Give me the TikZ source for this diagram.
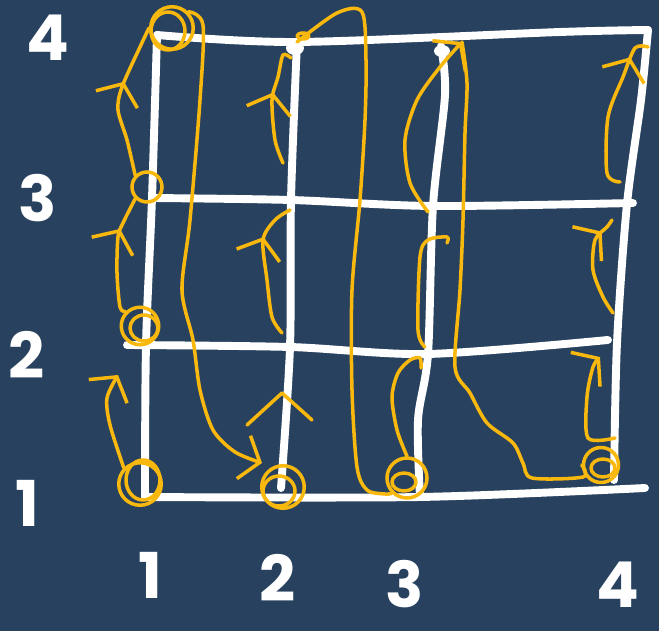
\documentclass[tikz,border=0pt]{standalone}
\usepackage{fontspec}
\setmainfont{Poppins}
\usetikzlibrary{arrows.meta,decorations.markings}
\definecolor{board}{HTML}{27415F}
\definecolor{chalk}{HTML}{FFFFFF}
\definecolor{pen}{HTML}{F9B80E}
\tikzset{
  grid line/.style={chalk, line width=4.5pt, line cap=round, line join=round},
  walk/.style={pen, line width=2pt, line cap=round, line join=round},
  hand/.tip={Straight Barb[length=0.34cm,width=0.9cm]},
  midarrow/.style={postaction={decorate}, decoration={markings, mark=at position #1 with {\arrow{hand}}}},
  ring/.style={circle, draw=pen, line width=2pt, inner sep=0pt, minimum size=#1},
  digit/.style={chalk, font=\fontsize{36}{36}\selectfont\bfseries}
}
\begin{document}
\begin{tikzpicture}[x=0.02cm,y=-0.02cm]
\useasboundingbox (0,0) rectangle (659,631);
\fill[board] (0,0) rectangle (659,631);

\coordinate (p11) at (145,497);
\coordinate (p12) at (146,345);
\coordinate (p13) at (152,198);
\coordinate (p14) at (157,35);
\coordinate (p21) at (281,488);
\coordinate (p22) at (290,347);
\coordinate (p23) at (291,200);
\coordinate (p24) at (297,42);
\coordinate (p31) at (420,497);
\coordinate (p32) at (428,354);
\coordinate (p33) at (433,206);
\coordinate (p34) at (441,46);
\coordinate (p41) at (614,480);
\coordinate (p42) at (617,343);
\coordinate (p43) at (627,204);
\coordinate (p44) at (648,30);

\draw[grid line] plot[smooth] coordinates {(p14) (p13) (p12) (p11)};
\draw[grid line] plot[smooth] coordinates {(p24) (p23) (p22) (p21)};
\draw[grid line] plot[smooth] coordinates {(p34) (445,95) (p33) (p32) (418,420) (p31)};
\draw[grid line] plot[smooth] coordinates {(p44) (641,100) (p43) (p42) (p41)};
\draw[grid line] plot[smooth] coordinates {(p14) (p24) (560,32) (p44)};
\draw[grid line] plot[smooth] coordinates {(p13) (p23) (p33) (633,203)};
\draw[grid line] plot[smooth] coordinates {(127,345) (p22) (p32) (608,340)};
\draw[grid line] plot[smooth] coordinates {(p11) (p31) (645,488)};
\fill[chalk] (295,48) ellipse[x radius=9, y radius=7];
\fill[chalk] (442,51) ellipse[x radius=8, y radius=6];

\node[digit] (ly4) at (48,38) {4};
\node[digit] (ly3) at (38,198) {3};
\node[digit] (ly2) at (27,355) {2};
\node[digit] (ly1) at (27,503) {1};
\node[digit] (lx1) at (150,575) {1};
\node[digit] (lx2) at (278,578) {2};
\node[digit] (lx3) at (405,584) {3};
\node[digit] (lx4) at (618,585) {4};

\node[ring=0.85cm] (c11) at (140,484) {};
\node[ring=0.75cm] (c12) at (140,326) {};
\node[ring=0.6cm] (c13) at (147,187) {};
\node[ring=0.85cm] (c14) at (172,28) {};
\node[ring=0.85cm] (c21) at (283,487) {};
\node[ring=0.8cm] (c31) at (407,478) {};
\node[ring=0.7cm] (c41) at (601,465) {};
\draw[walk] (c11) ++(3,-4) ellipse[x radius=17, y radius=20];
\draw[walk] (c12) ++(4,2) ellipse[x radius=14, y radius=13];
\draw[walk] (c14) ++(-4,3) ellipse[x radius=17, y radius=19];
\draw[walk] (c21) ++(-4,4) ellipse[x radius=16, y radius=15];
\draw[walk] (c31) ++(-3,4) ellipse[x radius=12, y radius=9];
\draw[walk] (c41) ++(2,3) ellipse[x radius=12, y radius=9];
\draw[walk] (303,36) ellipse[x radius=6, y radius=3];

\draw[walk, -{hand}] plot[smooth] coordinates {(c11.north west) (110,425) (107,398) (118,375)};
\draw[walk, midarrow=0.72] plot[smooth] coordinates {(c12.north west) (120,307) (117,273) (118,237) (123,223) (c13.south west)};
\draw[walk, midarrow=0.62] plot[smooth] coordinates {(c13.north west) (127,140) (118,110) (122,87) (140,47) (c14.west)};
\draw[walk, -{hand}] plot[smooth] coordinates {(c14.north east) (203,25) (200,100) (190,220) (182,290) (193,340) (200,390) (213,430) (235,452) (262,463)};
\draw[walk] (247,425) -- (282,393) -- (312,420);
\draw[walk, midarrow=0.72] plot[smooth] coordinates {(282,333) (272,317) (267,280) (263,240) (275,220) (290,210)};
\draw[walk, midarrow=0.6] plot[smooth] coordinates {(283,163) (275,140) (272,100) (278,77) (283,55) (291,58)};
\draw[walk] plot[smooth] coordinates {(p24) (337,13) (362,12) (366,60) (365,120) (360,200) (352,290) (352,390) (357,467) (367,490) (385,494) (c31.south west)};
\draw[walk] plot[smooth] coordinates {(c31.north) (397,430) (392,397) (398,373) (410,360) (420,358) (421,368)};
\draw[walk] plot[smooth] coordinates {(425,347) (418,330) (420,257) (428,240) (447,237) (447,243)};
\draw[walk, -{hand}] plot[smooth] coordinates {(428,212) (410,183) (405,140) (417,100) (440,67) (462,42)};
\draw[walk] plot[smooth] coordinates {(462,42) (467,83) (465,133) (463,220) (460,290) (455,367) (470,393) (487,423) (513,443) (523,463) (532,478) (583,477) (c41.west)};
\draw[walk, -{hand}] plot[smooth] coordinates {(615,438) (588,438) (587,397) (593,367) (600,357)};
\draw[walk, midarrow=0.85] plot[smooth] coordinates {(613,313) (603,297) (593,270) (595,240) (607,227) (612,220)};
\draw[walk, midarrow=0.85] plot[smooth] coordinates {(620,182) (607,173) (608,117) (623,77) (635,48) (648,47)};
\end{tikzpicture}
\end{document}
